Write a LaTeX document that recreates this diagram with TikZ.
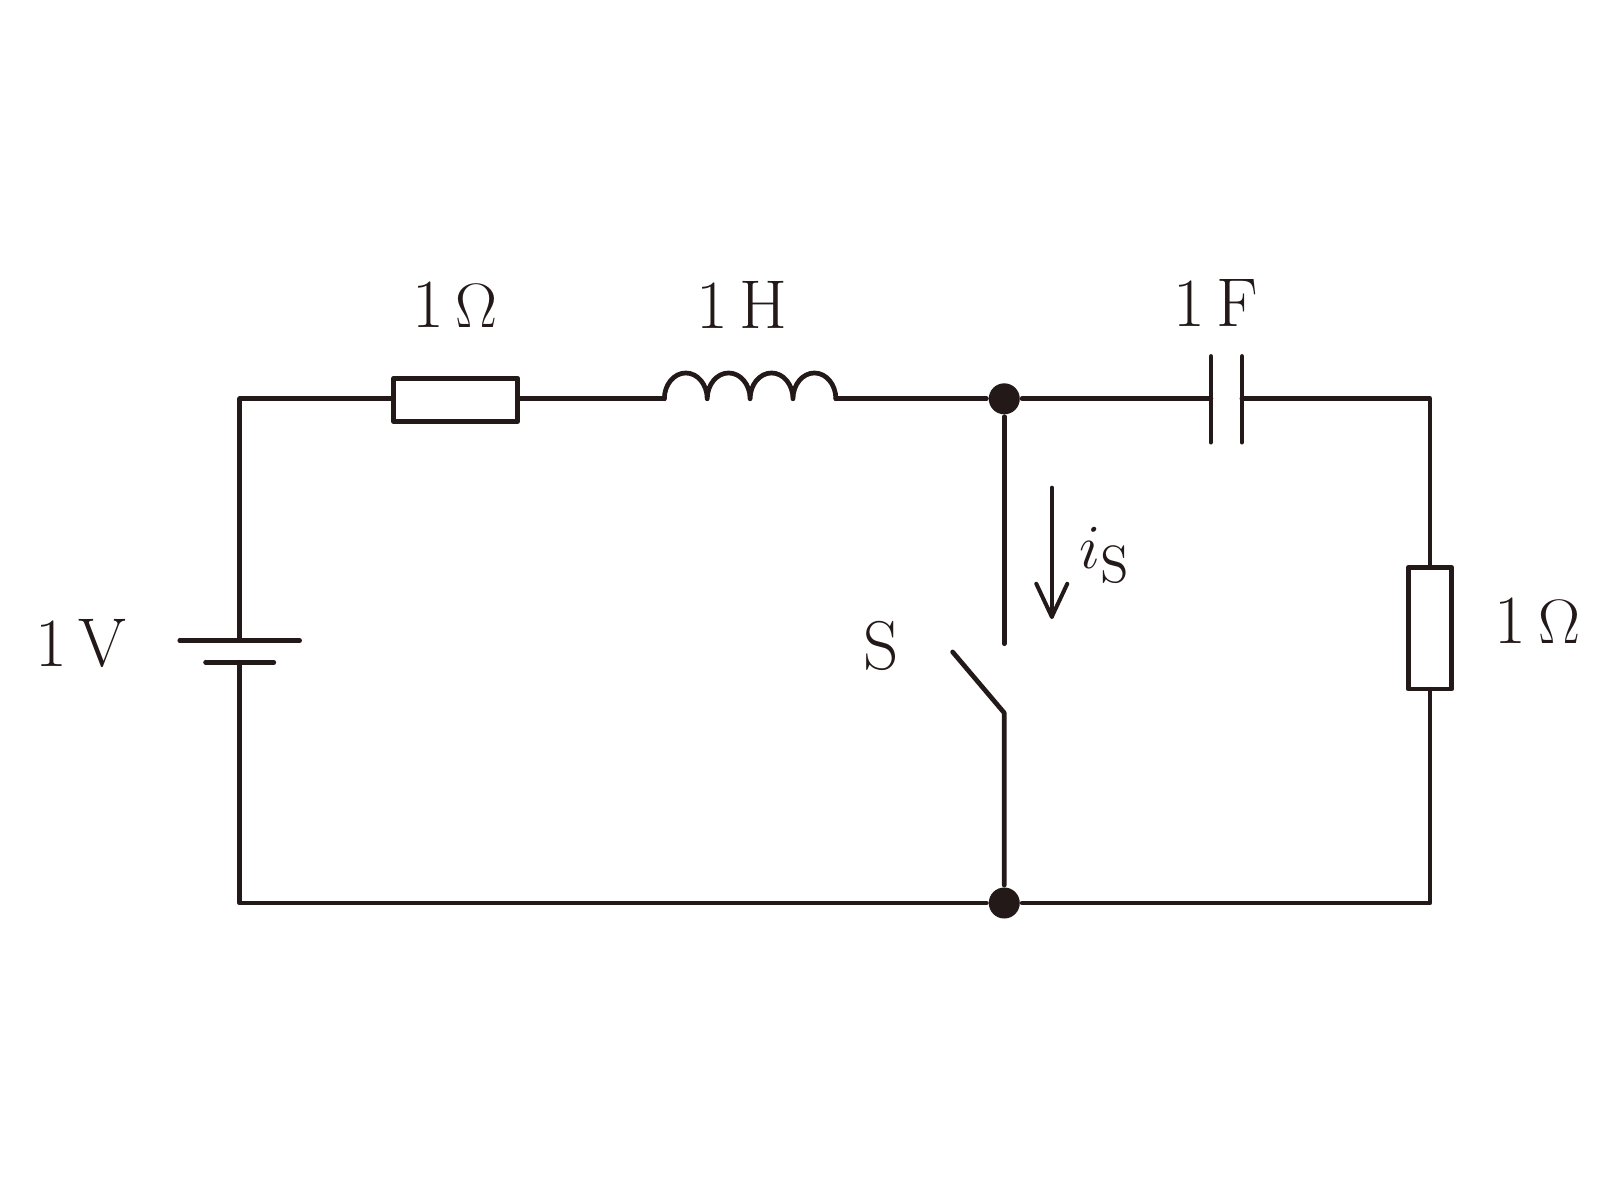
\documentclass[tikz,border=0pt]{standalone}
\begin{document}
\begin{tikzpicture}[x=0.01cm,y=-0.01cm,line width=1.3pt,line cap=round,line join=round,
 lbl/.style={font=\fontsize{19}{22}\selectfont},
 dot/.style={circle,fill,inner sep=0pt,minimum size=0.3cm}]
\useasboundingbox (0,0) rectangle (1567,1161);
\definecolor{ink}{RGB}{35,25,25}
\begin{scope}[color=ink]
\node[dot] (n1) at (972,386) {};
\node[dot] (n2) at (972,874) {};
\coordinate (tl) at (232,386); \coordinate (bl) at (232,874);
\coordinate (tr) at (1384,386); \coordinate (br) at (1384,874);
% left branch with battery
\draw (tl) -- (232,620); \draw (174,620) -- (290,620); \draw (199,641) -- (265,641);
\draw (232,641) -- (bl) -- (n2) -- (br) -- (1384,667);
\draw (1363,549) rectangle (1405,667);
\draw (1384,549) -- (tr) -- (1202,386);
\draw (1202,345) -- (1202,428); \draw (1172,345) -- (1172,428);
\draw (1172,386) -- (n1) -- (809,386);
\draw (809,386) arc[start angle=0,end angle=-180,x radius=20.75,y radius=25]
  arc[start angle=0,end angle=-180,x radius=20.75,y radius=25]
  arc[start angle=0,end angle=-180,x radius=20.75,y radius=25]
  arc[start angle=0,end angle=-180,x radius=20.75,y radius=25];
\draw (643,386) -- (501,386);
\draw (381,366) rectangle (501,408);
\draw (381,386) -- (tl);
% switch
\draw (n1) -- (972,623);
\draw (922,631) -- (972,690) -- (n2);
\draw[line width=1.1pt] (1018,472) -- (1018,597);
\draw[line width=1.1pt] (1003,565) -- (1018,597) -- (1033,565);
\node[lbl] at (1070,537) {$i_{\mathrm{S}}$};
\node[lbl] at (853,625) {S};
\node[lbl] at (78,623) {1\,V};
\node[lbl] at (440,295) {1\,$\Omega$};
\node[lbl] at (718,295) {1\,H};
\node[lbl] at (1177,293) {1\,F};
\node[lbl] at (1488,601) {1\,$\Omega$};
\end{scope}
\end{tikzpicture}
\end{document}
